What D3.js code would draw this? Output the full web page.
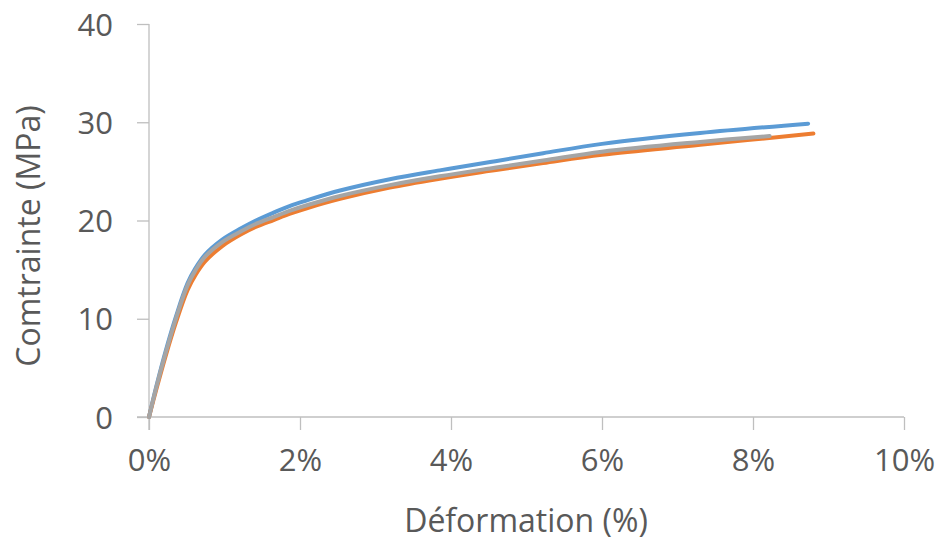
<!DOCTYPE html>
<html><head><meta charset="utf-8">
<script src="https://cdn.jsdelivr.net/npm/d3@7"></script>
<style>body{margin:0;background:#fff}svg{display:block}text{font-family:"Open Sans",sans-serif;fill:#595959}</style>
</head><body>
<script>
const seriesNames = ["Série 1", "Série 2", "Série 3"];
const seriesColors = ["#5B9BD5", "#ED7D31", "#A5A5A5"];
// strain (%) and stress (MPa)
const blueX   = [0, 0.10, 0.22, 0.36, 0.51, 0.62, 0.74, 0.97, 1.22, 1.43, 1.65, 1.87, 2.09, 2.53, 3.19, 3.85, 4.52, 5.22, 6.00, 7.30, 8.73];
const blueY   = [0, 3.2, 6.7, 10.3, 13.6, 15.2, 16.5, 18.05, 19.2, 20.05, 20.8, 21.5, 22.05, 23.05, 24.2, 25.1, 25.95, 26.85, 27.8, 28.9, 29.85];
const orangeX = [0, 0.10, 0.22, 0.36, 0.51, 0.62, 0.74, 0.97, 1.22, 1.43, 1.65, 1.87, 2.09, 2.53, 3.19, 3.85, 4.52, 5.22, 6.00, 7.30, 8.80];
const orangeY = [0, 2.9, 6.2, 9.7, 12.9, 14.5, 15.8, 17.4, 18.6, 19.4, 20.05, 20.7, 21.25, 22.2, 23.35, 24.25, 25.05, 25.85, 26.7, 27.7, 28.85];
const grayX   = [0, 0.10, 0.22, 0.36, 0.51, 0.62, 0.74, 0.97, 1.22, 1.43, 1.65, 1.87, 2.09, 2.53, 3.19, 3.85, 4.52, 5.22, 6.00, 7.30, 8.22];
const grayY   = [0, 3.1, 6.5, 10.1, 13.4, 15.0, 16.3, 17.8, 18.9, 19.7, 20.35, 21.0, 21.55, 22.5, 23.6, 24.5, 25.3, 26.1, 27.0, 28.0, 28.6];
const xTicks = [0, 2, 4, 6, 8, 10];
const yTicks = [0, 10, 20, 30, 40];
const xTitle = "Déformation (%)";
const yTitle = "Comtrainte (MPa)";

const W = 941, H = 542;
const svg = d3.select("body").append("svg").attr("width", W).attr("height", H);
const x = d3.scaleLinear().domain([0, 10]).range([149, 904]);
const y = d3.scaleLinear().domain([0, 40]).range([417, 24]);
const axisColor = "#BFBFBF";

// y axis
const gy = svg.append("g").attr("transform", "translate(149,0)")
  .call(d3.axisLeft(y).tickValues(yTicks).tickSize(12).tickPadding(24).tickFormat(d3.format("d")));
gy.select(".domain").remove();
gy.selectAll("line").attr("stroke", axisColor).attr("stroke-width", 1.3);
gy.selectAll("text").attr("font-size", 31).style("fill", "#595959").attr("dy", "0.36em");
svg.append("line").attr("x1", 149).attr("x2", 149).attr("y1", 24).attr("y2", 430)
  .attr("stroke", axisColor).attr("stroke-width", 1.3);

// x axis
const gx = svg.append("g").attr("transform", "translate(0,417)")
  .call(d3.axisBottom(x).tickValues(xTicks).tickSize(13).tickPadding(19).tickFormat(d => d + "%"));
gx.select(".domain").remove();
gx.selectAll("line").attr("stroke", axisColor).attr("stroke-width", 1.3);
gx.selectAll("text").attr("font-size", 31).style("fill", "#595959");
svg.append("line").attr("x1", 137).attr("x2", 904).attr("y1", 417).attr("y2", 417)
  .attr("stroke", axisColor).attr("stroke-width", 1.3);

// titles
svg.append("text").attr("x", 526).attr("y", 532).attr("text-anchor", "middle")
  .attr("font-size", 32).text(xTitle);
svg.append("text").attr("transform", "translate(40,236) rotate(-90)").attr("text-anchor", "middle")
  .attr("font-size", 32).text(yTitle);

// series
const allSeries = [
  {name: seriesNames[0], xs: blueX, ys: blueY, color: seriesColors[0]},
  {name: seriesNames[1], xs: orangeX, ys: orangeY, color: seriesColors[1]},
  {name: seriesNames[2], xs: grayX, ys: grayY, color: seriesColors[2]}
];
const line = d3.line().x(d => x(d[0])).y(d => y(d[1])).curve(d3.curveCatmullRom.alpha(0.5));
svg.append("g").selectAll("path").data(allSeries).join("path")
  .attr("d", s => line(s.xs.map((v, i) => [v, s.ys[i]])))
  .attr("fill", "none").attr("stroke", s => s.color).attr("stroke-width", 4)
  .attr("stroke-linecap", "round").attr("stroke-linejoin", "round");
</script>
</body></html>
